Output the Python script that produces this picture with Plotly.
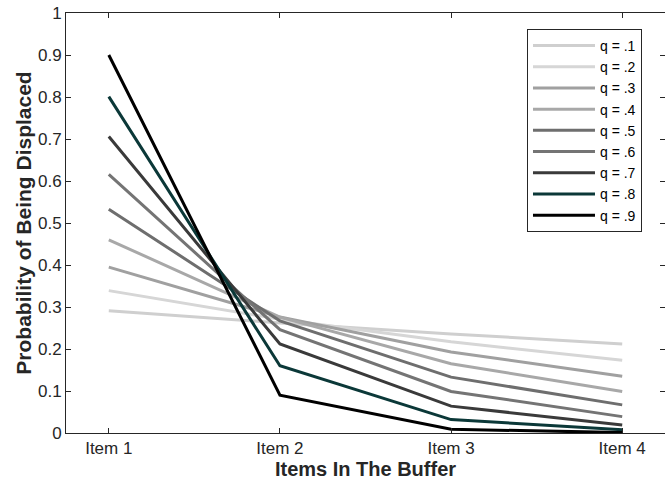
import plotly.graph_objects as go

items = ["Item 1", "Item 2", "Item 3", "Item 4"]
q_labels = ["q = .1", "q = .2", "q = .3", "q = .4", "q = .5", "q = .6", "q = .7", "q = .8", "q = .9"]

q1 = [0.291, 0.262, 0.236, 0.212]
q2 = [0.339, 0.271, 0.217, 0.173]
q3 = [0.395, 0.276, 0.193, 0.135]
q4 = [0.460, 0.276, 0.165, 0.099]
q5 = [0.533, 0.267, 0.133, 0.067]
q6 = [0.616, 0.246, 0.099, 0.039]
q7 = [0.706, 0.212, 0.064, 0.019]
q8 = [0.801, 0.160, 0.032, 0.008]
q9 = [0.900, 0.090, 0.009, 0.001]
series = [q1, q2, q3, q4, q5, q6, q7, q8, q9]

colors = ["#cfcfcf", "#d6d6d6", "#a0a0a0", "#a8a8a8", "#6e6e6e", "#747474",
          "#3a3a3a", "#0b3838", "#000000"]

fig = go.Figure()
for lab, vals, col in zip(q_labels, series, colors):
    fig.add_trace(go.Scatter(x=[1, 2, 3, 4], y=vals, mode="lines", name=lab,
                             line=dict(color=col, width=3)))

axis_col = "#262626"
fig.update_layout(
    width=665, height=480,
    margin=dict(l=66, r=0, t=13, b=47),
    paper_bgcolor="white", plot_bgcolor="white",
    font=dict(family="Liberation Sans, Arial, sans-serif", size=17, color=axis_col),
    showlegend=True,
    legend=dict(x=0.7696, y=0.962, xanchor="left", yanchor="top",
                bordercolor=axis_col, borderwidth=1, bgcolor="white",
                font=dict(size=14, color="#000000"),
                tracegroupgap=0, itemwidth=62),
)
fig.update_xaxes(
    range=[0.75, 4.25], tickmode="array", tickvals=[1, 2, 3, 4], ticktext=items,
    ticks="inside", ticklen=5, tickcolor=axis_col, showline=True, linecolor=axis_col,
    linewidth=1, mirror="ticks", showgrid=False, zeroline=False,
    title=dict(text="<b>Items In The Buffer</b>", font=dict(size=20, color=axis_col), standoff=2),
    tickfont=dict(size=17, color=axis_col),
)
fig.update_yaxes(
    range=[0, 1], tickmode="array",
    tickvals=[0, 0.1, 0.2, 0.3, 0.4, 0.5, 0.6, 0.7, 0.8, 0.9, 1],
    ticktext=["0", "0.1", "0.2", "0.3", "0.4", "0.5", "0.6", "0.7", "0.8", "0.9", "1"],
    ticks="inside", ticklen=5, tickcolor=axis_col, showline=True, linecolor=axis_col,
    linewidth=1, mirror="ticks", showgrid=False, zeroline=False,
    title=dict(text="<b>Probability of Being Displaced</b>", font=dict(size=21, color=axis_col), standoff=0),
    tickfont=dict(size=17, color=axis_col),
    ticklabeloverflow="allow",
)

fig.write_html("out.html", config={"displayModeBar": False},
               post_script="document.body.style.margin='0';")
